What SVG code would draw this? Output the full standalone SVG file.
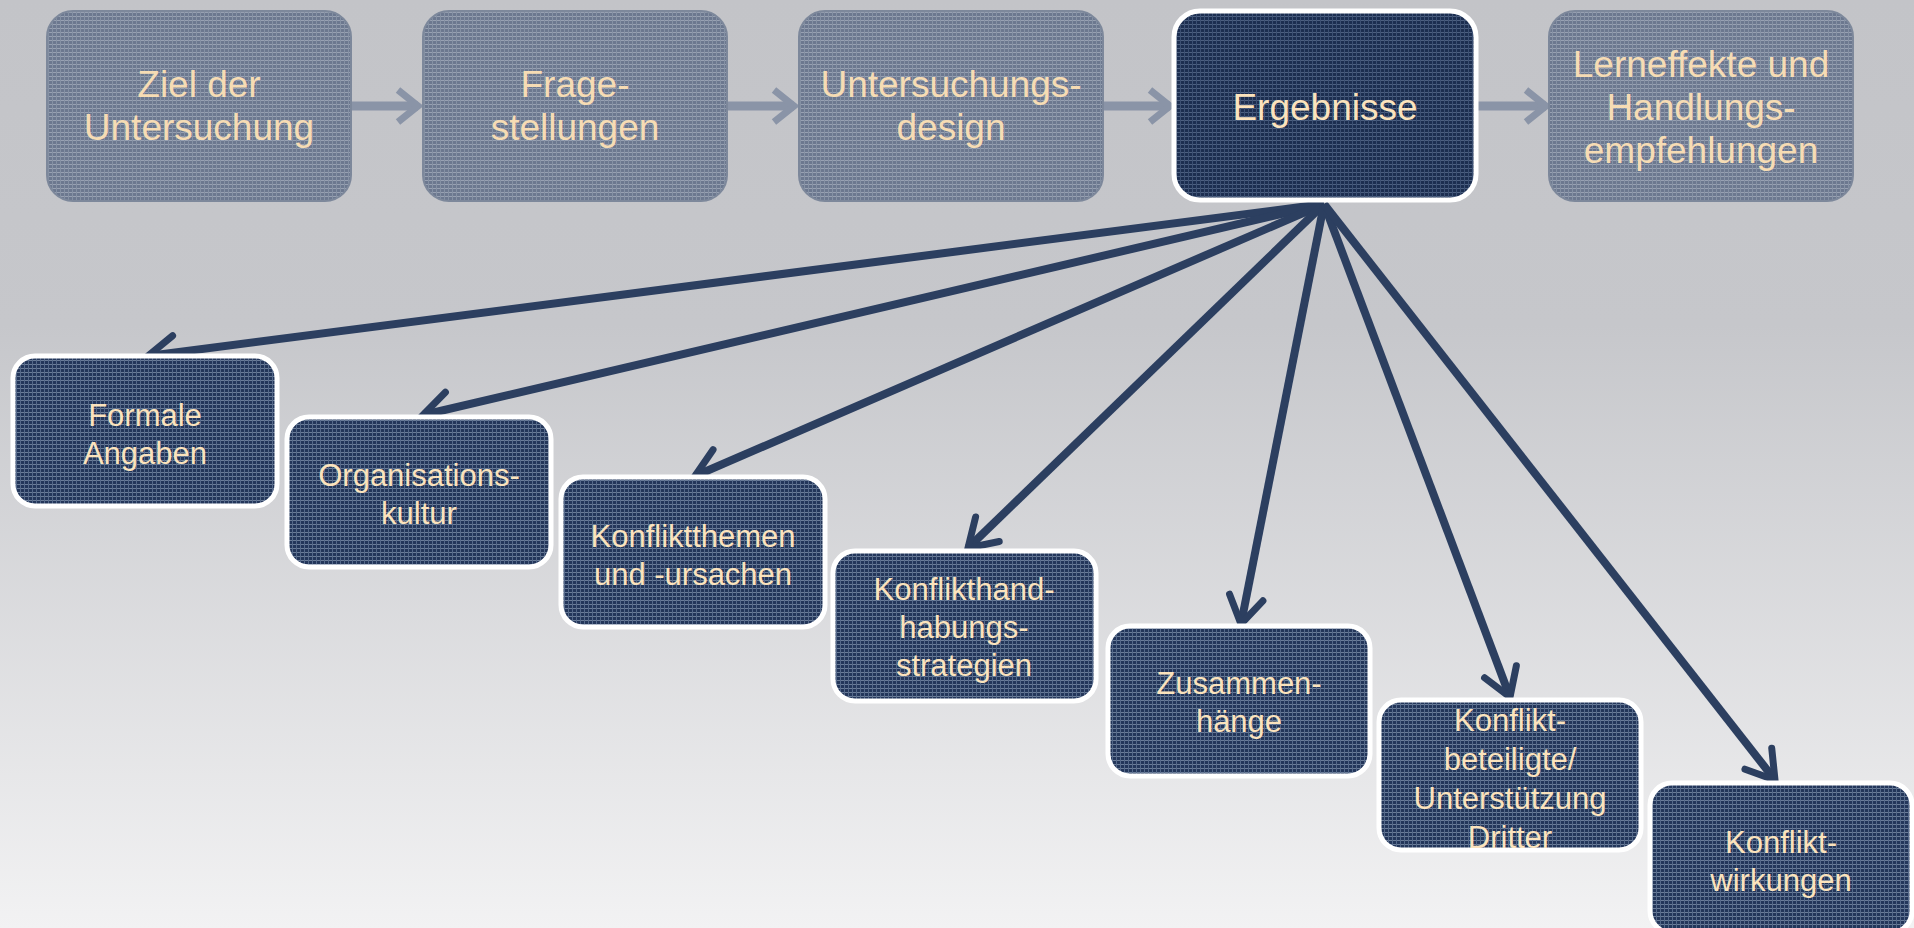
<svg xmlns="http://www.w3.org/2000/svg" width="1914" height="928" viewBox="0 0 1914 928">
<defs>
<linearGradient id="bg" x1="0" y1="0" x2="0" y2="1">
<stop offset="0" stop-color="#c3c4c8"/>
<stop offset="0.35" stop-color="#c6c7cb"/>
<stop offset="1" stop-color="#f2f2f3"/>
</linearGradient>
<pattern id="hatch" width="4" height="4" patternUnits="userSpaceOnUse">
<rect width="4" height="4" fill="#23365a"/>
<rect x="0" y="0" width="4" height="1" fill="#6b7d98"/>
<rect x="0" y="0" width="1" height="4" fill="#55698a"/>
</pattern>
<pattern id="hatchDark" width="4" height="4" patternUnits="userSpaceOnUse">
<rect width="4" height="4" fill="#1c2e50"/>
<rect x="0" y="0" width="4" height="1" fill="#4d6080"/>
<rect x="0" y="0" width="1" height="4" fill="#3c5073"/>
</pattern>
<pattern id="hatchFade" width="4" height="4" patternUnits="userSpaceOnUse">
<rect width="4" height="4" fill="#6c788f"/>
<rect x="0" y="0" width="4" height="1" fill="#98a1b2"/>
<rect x="0" y="0" width="1" height="4" fill="#8591a4"/>
</pattern>
<marker id="head" markerUnits="userSpaceOnUse" viewBox="-34 -24 40 48" refX="0" refY="0" markerWidth="40" markerHeight="48" orient="auto">
<path d="M-27,-17 L0,0 L-27,17" fill="none" stroke="#2c3f60" stroke-width="7" stroke-linejoin="miter" stroke-linecap="round"/>
</marker>
<marker id="headFade" markerUnits="userSpaceOnUse" viewBox="-30 -22 36 44" refX="0" refY="0" markerWidth="36" markerHeight="44" orient="auto">
<path d="M-20,-16 L0,0 L-20,16" fill="none" stroke="#8a94a7" stroke-width="7" stroke-linejoin="miter"/>
</marker>
</defs>
<style>
.top{fill:url(#hatchFade);stroke:#7d889b;stroke-width:2}
.main{fill:url(#hatchDark);stroke:#ffffff;stroke-width:5}
.sub{fill:url(#hatch);stroke:#ffffff;stroke-width:5}
.tt{font-family:"Liberation Sans",Arial,sans-serif;font-size:37px;fill:#f6dcb4;text-anchor:middle}
.st{font-family:"Liberation Sans",Arial,sans-serif;font-size:31px;fill:#fbe3bd;text-anchor:middle}
.c{fill:none;stroke:#2c3f60;stroke-width:8;marker-end:url(#head)}
.cf{fill:none;stroke:#8a94a7;stroke-width:9;marker-end:url(#headFade)}
</style>
<rect x="0" y="0" width="1914" height="928" fill="url(#bg)"/>

<g id="connectors">
<line class="cf" x1="352" y1="106" x2="418" y2="106"/>
<line class="cf" x1="728" y1="106" x2="794" y2="106"/>
<line class="cf" x1="1104" y1="106" x2="1170" y2="106"/>
<line class="cf" x1="1478" y1="106" x2="1546" y2="106"/>
<line class="c" x1="1324" y1="204" x2="148" y2="356"/>
<line class="c" x1="1324" y1="204" x2="423" y2="415"/>
<line class="c" x1="1324" y1="204" x2="695" y2="476"/>
<line class="c" x1="1324" y1="204" x2="968" y2="548"/>
<line class="c" x1="1324" y1="204" x2="1241" y2="624"/>
<line class="c" x1="1324" y1="204" x2="1510" y2="697"/>
<line class="c" x1="1324" y1="204" x2="1775" y2="780"/>
</g>

<g id="n-ziel">
<rect class="top" x="47" y="11" width="304" height="190" rx="26"/>
<text class="tt" x="199" y="97">Ziel der</text>
<text class="tt" x="199" y="140">Untersuchung</text>
</g>
<g id="n-frage">
<rect class="top" x="423" y="11" width="304" height="190" rx="26"/>
<text class="tt" x="575" y="97">Frage-</text>
<text class="tt" x="575" y="140">stellungen</text>
</g>
<g id="n-design">
<rect class="top" x="799" y="11" width="304" height="190" rx="26"/>
<text class="tt" x="951" y="97">Untersuchungs-</text>
<text class="tt" x="951" y="140">design</text>
</g>
<g id="n-ergebnisse">
<rect class="main" x="1174" y="11" width="302" height="189" rx="26"/>
<text class="tt" x="1325" y="120" style="fill:#fbe3bd">Ergebnisse</text>
</g>
<g id="n-lern">
<rect class="top" x="1549" y="11" width="304" height="190" rx="26"/>
<text class="tt" x="1701" y="77">Lerneffekte und</text>
<text class="tt" x="1701" y="120">Handlungs-</text>
<text class="tt" x="1701" y="163">empfehlungen</text>
</g>

<g id="n-formale">
<rect class="sub" x="13" y="356" width="264" height="150" rx="22"/>
<text class="st" x="145" y="426">Formale</text>
<text class="st" x="145" y="464">Angaben</text>
</g>
<g id="n-org">
<rect class="sub" x="287" y="417" width="264" height="150" rx="22"/>
<text class="st" x="419" y="486">Organisations-</text>
<text class="st" x="419" y="524">kultur</text>
</g>
<g id="n-themen">
<rect class="sub" x="561" y="477" width="264" height="150" rx="22"/>
<text class="st" x="693" y="547">Konfliktthemen</text>
<text class="st" x="693" y="585">und -ursachen</text>
</g>
<g id="n-hand">
<rect class="sub" x="833" y="551" width="263" height="150" rx="22"/>
<text class="st" x="964" y="600">Konflikthand-</text>
<text class="st" x="964" y="638">habungs-</text>
<text class="st" x="964" y="676">strategien</text>
</g>
<g id="n-zus">
<rect class="sub" x="1108" y="626" width="262" height="150" rx="22"/>
<text class="st" x="1239" y="694">Zusammen-</text>
<text class="st" x="1239" y="732">hänge</text>
</g>
<g id="n-beteiligte">
<rect class="sub" x="1379" y="700" width="262" height="150" rx="22"/>
<text class="st" x="1510" y="731">Konflikt-</text>
<text class="st" x="1510" y="770">beteiligte/</text>
<text class="st" x="1510" y="809">Unterstützung</text>
<text class="st" x="1510" y="848">Dritter</text>
</g>
<g id="n-wirkungen">
<rect class="sub" x="1650" y="783" width="262" height="150" rx="22"/>
<text class="st" x="1781" y="853">Konflikt-</text>
<text class="st" x="1781" y="891">wirkungen</text>
</g>
</svg>
